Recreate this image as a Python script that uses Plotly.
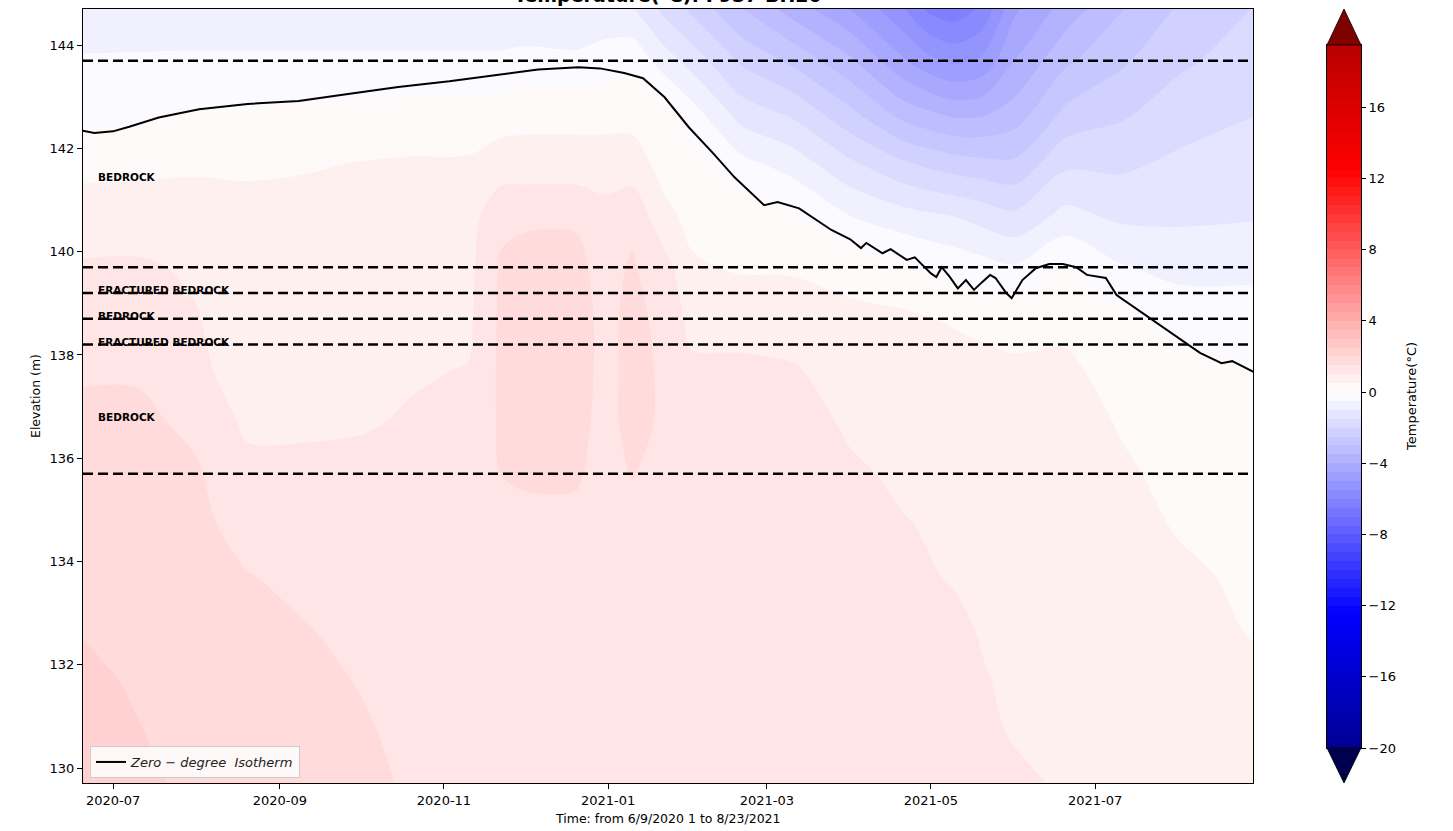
import numpy as np
import plotly.graph_objects as go

# ---------------- data ----------------
# borehole temperature grid (°C): one column per date, values listed bottom -> top
grid_dates = ["2020-06-19", "2020-07-10", "2020-08-01", "2020-08-20", "2020-09-10",
              "2020-10-01", "2020-10-20", "2020-11-10", "2020-11-22", "2020-12-01",
              "2020-12-20", "2020-12-31", "2021-01-10", "2021-01-22", "2021-02-01",
              "2021-02-20", "2021-03-10", "2021-04-01", "2021-04-20", "2021-04-30",
              "2021-05-10", "2021-05-20", "2021-06-01", "2021-06-20", "2021-07-10",
              "2021-08-01", "2021-08-29"]
grid_elev = [129.7, 130.7, 131.7, 132.7, 133.7, 134.7, 135.7, 136.7,
             137.7, 138.7, 139.7, 140.7, 141.7, 142.7, 143.7, 144.7]
temp_columns = [
    [2.30, 2.15, 2.10, 1.98, 1.85, 1.75, 1.65, 1.60, 1.45, 1.20, 1.05, 0.75, 0.35, -0.15, -0.45, -0.80],
    [2.10, 2.02, 1.95, 1.90, 1.85, 1.75, 1.65, 1.60, 1.45, 1.25, 1.05, 0.80, 0.35, -0.10, -0.45, -0.75],
    [1.90, 1.85, 1.80, 1.75, 1.70, 1.60, 1.55, 1.40, 1.10, 1.02, 0.95, 0.80, 0.40, 0.05, -0.45, -0.70],
    [1.85, 1.80, 1.70, 1.60, 1.52, 1.35, 1.15, 0.90, 0.80, 0.80, 0.80, 0.70, 0.40, 0.05, -0.45, -0.70],
    [1.80, 1.70, 1.60, 1.52, 1.40, 1.30, 1.15, 0.90, 0.75, 0.75, 0.75, 0.70, 0.45, 0.10, -0.45, -0.70],
    [1.60, 1.55, 1.48, 1.40, 1.35, 1.25, 1.15, 0.95, 0.85, 0.80, 0.75, 0.70, 0.52, 0.15, -0.45, -0.70],
    [1.45, 1.40, 1.35, 1.30, 1.30, 1.25, 1.20, 1.05, 0.95, 0.85, 0.80, 0.70, 0.55, 0.20, -0.45, -0.70],
    [1.40, 1.35, 1.35, 1.30, 1.30, 1.25, 1.20, 1.10, 1.02, 0.90, 0.85, 0.75, 0.55, 0.25, -0.45, -0.70],
    [1.35, 1.30, 1.30, 1.30, 1.30, 1.35, 1.50, 1.56, 1.58, 1.58, 1.55, 1.40, 0.70, 0.30, -0.45, -0.70],
    [1.35, 1.30, 1.30, 1.30, 1.30, 1.40, 1.55, 1.60, 1.65, 1.65, 1.60, 1.45, 0.70, 0.35, -0.42, -0.70],
    [1.30, 1.30, 1.30, 1.30, 1.30, 1.40, 1.55, 1.60, 1.65, 1.65, 1.60, 1.45, 0.70, 0.35, -0.42, -0.80],
    [1.30, 1.30, 1.30, 1.30, 1.30, 1.30, 1.35, 1.40, 1.40, 1.40, 1.35, 1.20, 0.70, 0.35, -0.25, -0.85],
    [1.30, 1.30, 1.30, 1.30, 1.30, 1.35, 1.52, 1.60, 1.60, 1.60, 1.55, 1.40, 0.70, 0.35, -0.15, -0.95],
    [1.30, 1.30, 1.30, 1.30, 1.30, 1.30, 1.35, 1.45, 1.45, 1.40, 1.20, 0.60, 0.35, 0.15, -0.75, -1.65],
    [1.30, 1.30, 1.30, 1.30, 1.30, 1.30, 1.30, 1.25, 1.10, 0.85, 0.55, 0.40, 0.25, -0.30, -1.20, -2.10],
    [1.30, 1.30, 1.30, 1.30, 1.30, 1.30, 1.30, 1.25, 1.10, 0.80, 0.45, 0.30, -0.35, -1.25, -2.10, -3.00],
    [1.30, 1.30, 1.28, 1.27, 1.26, 1.25, 1.25, 1.15, 1.05, 0.75, 0.45, 0.10, -0.70, -1.60, -2.60, -3.70],
    [1.25, 1.20, 1.20, 1.15, 1.10, 1.10, 1.05, 0.95, 0.80, 0.60, 0.35, -0.50, -1.40, -2.40, -3.40, -4.50],
    [1.20, 1.20, 1.15, 1.10, 1.05, 1.02, 0.95, 0.85, 0.75, 0.60, 0.10, -0.80, -1.90, -3.20, -4.40, -5.40],
    [1.18, 1.15, 1.12, 1.08, 1.02, 0.98, 0.92, 0.82, 0.72, 0.52, -0.05, -0.92, -2.10, -3.45, -4.85, -6.10],
    [1.15, 1.12, 1.10, 1.05, 0.98, 0.95, 0.90, 0.80, 0.70, 0.45, -0.17, -1.02, -2.25, -3.65, -5.10, -6.30],
    [1.10, 1.05, 1.02, 0.98, 0.92, 0.88, 0.82, 0.75, 0.65, 0.38, -0.30, -1.20, -2.35, -3.60, -4.90, -5.90],
    [1.05, 0.98, 0.95, 0.90, 0.85, 0.80, 0.75, 0.70, 0.60, 0.30, -0.45, -1.40, -2.40, -3.30, -4.00, -4.60],
    [0.97, 0.92, 0.88, 0.84, 0.80, 0.75, 0.70, 0.65, 0.58, 0.40, 0.05, -0.85, -1.60, -2.40, -3.10, -3.80],
    [0.85, 0.80, 0.75, 0.70, 0.65, 0.60, 0.55, 0.48, 0.35, 0.15, -0.45, -1.10, -1.60, -2.10, -2.60, -3.05],
    [0.75, 0.70, 0.65, 0.60, 0.55, 0.48, 0.42, 0.35, 0.25, -0.20, -0.65, -1.10, -1.40, -1.75, -2.10, -2.45],
    [0.65, 0.60, 0.55, 0.48, 0.45, 0.40, 0.35, 0.25, 0.02, -0.30, -0.60, -1.05, -1.30, -1.52, -1.75, -1.98],
]

# zero-degree isotherm elevation through time
iso_dates = ["2020-06-19", "2020-06-24", "2020-07-01", "2020-07-07", "2020-07-18", "2020-08-02",
             "2020-08-20", "2020-09-08", "2020-09-27", "2020-10-15", "2020-11-03", "2020-11-22",
             "2020-12-06", "2020-12-21", "2020-12-29", "2021-01-07", "2021-01-14", "2021-01-22",
             "2021-01-31", "2021-02-09", "2021-02-17", "2021-02-28", "2021-03-05", "2021-03-13",
             "2021-03-25", "2021-04-01", "2021-04-05", "2021-04-07", "2021-04-13", "2021-04-16",
             "2021-04-22", "2021-04-25", "2021-05-01", "2021-05-03", "2021-05-05", "2021-05-08",
             "2021-05-11", "2021-05-14", "2021-05-17", "2021-05-20", "2021-05-23", "2021-05-25",
             "2021-05-29", "2021-05-31", "2021-06-04", "2021-06-09", "2021-06-14", "2021-06-19",
             "2021-06-24", "2021-06-28", "2021-07-05", "2021-07-09", "2021-07-21", "2021-08-02",
             "2021-08-09", "2021-08-17", "2021-08-21", "2021-08-29"]
iso_elev = [142.35, 142.30, 142.33, 142.42, 142.60, 142.76, 142.86, 142.92, 143.06, 143.19,
            143.30, 143.43, 143.53, 143.57, 143.55, 143.46, 143.36, 142.99, 142.41, 141.91,
            141.44, 140.90, 140.96, 140.84, 140.42, 140.24, 140.07, 140.17, 139.97, 140.05,
            139.84, 139.89, 139.58, 139.51, 139.70, 139.51, 139.29, 139.45, 139.26, 139.41,
            139.55, 139.49, 139.20, 139.10, 139.45, 139.68, 139.76, 139.76, 139.70, 139.55,
            139.49, 139.16, 138.73, 138.29, 138.04, 137.84, 137.88, 137.67]

# geological layer boundaries and labels
layer_bounds = [143.7, 139.7, 139.2, 138.7, 138.2, 135.7]
layer_names = ["BEDROCK", "FRACTURED BEDROCK", "BEDROCK", "FRACTURED BEDROCK", "BEDROCK"]
layer_label_elev = [141.45, 139.25, 138.75, 138.25, 136.8]

cbar_ticks = [-20, -16, -12, -8, -4, 0, 4, 8, 12, 16]
cbar_ticktext = ["\u221220", "\u221216", "\u221212", "\u22128", "\u22124", "0", "4", "8", "12", "16"]

# ---------------- styling helpers ----------------
LVL_START, LVL_END, LVL_STEP = -20.0, 19.5, 0.5
NORM_MIN, NORM_MAX = -25.0, 25.0
FONT = "DejaVu Sans"


def seismic(f):
    anchors = [(0.0, (0.0, 0.0, 0.3)), (0.25, (0.0, 0.0, 1.0)), (0.5, (1.0, 1.0, 1.0)),
               (0.75, (1.0, 0.0, 0.0)), (1.0, (0.5, 0.0, 0.0))]
    f = min(max(f, 0.0), 1.0)
    for (p0, c0), (p1, c1) in zip(anchors[:-1], anchors[1:]):
        if f <= p1:
            t = (f - p0) / (p1 - p0)
            return "rgb(%d,%d,%d)" % tuple(round(255 * (a + (b - a) * t)) for a, b in zip(c0, c1))
    return "rgb(128,0,0)"


# discrete colour for every filled band (band midpoints), plus the band below the first level
n_stops = int(round((LVL_END - LVL_START) / LVL_STEP)) + 1
band_vals = [LVL_START - LVL_STEP / 2 + LVL_STEP * k for k in range(n_stops + 1)]
colorscale = [[k / n_stops, seismic((v - NORM_MIN) / (NORM_MAX - NORM_MIN))]
              for k, v in enumerate(band_vals)]

levels = np.arange(LVL_START, LVL_END + LVL_STEP / 2, LVL_STEP)
centers = (levels[:-1] + levels[1:]) / 2

z = np.array(temp_columns).T

# page geometry (pixels)
W, H = 1453, 831
ML, MR, MT, MB = 83, 92, 9, 48
PW, PH = W - ML - MR, H - MT - MB


def px_x(x):
    return (x - ML) / PW


def px_y(y):
    return (H - MB - y) / PH


fig = go.Figure()

fig.add_trace(go.Contour(
    x=grid_dates, y=grid_elev, z=z,
    colorscale=colorscale, autocontour=False,
    contours=dict(start=LVL_START, end=LVL_END, size=LVL_STEP,
                  coloring="fill", showlines=False),
    line=dict(width=0, smoothing=0.9),
    showscale=False, hoverinfo="skip", showlegend=False,
))

fig.add_trace(go.Scatter(
    x=iso_dates, y=iso_elev, mode="lines",
    line=dict(color="black", width=2),
    name="<i>Zero \u2212 degree\u00a0\u00a0Isotherm</i>",
    showlegend=True,
))

# colour bar drawn as its own small axis
fig.add_trace(go.Heatmap(
    x=[0, 1], y=levels, z=[[c] for c in centers],
    colorscale=colorscale, zmin=band_vals[0], zmax=band_vals[-1],
    showscale=False, hoverinfo="skip", xaxis="x2", yaxis="y2", showlegend=False,
))

shapes = []
for b in layer_bounds:
    shapes.append(dict(type="line", xref="x domain", yref="y", x0=0, x1=1, y0=b, y1=b,
                       line=dict(color="black", width=2.5, dash="10px,5px")))

cb_l, cb_r, cb_c = px_x(1327), px_x(1361), px_x(1344)
cb_top, cb_bot = px_y(45), px_y(748)
shapes.append(dict(type="path", xref="paper", yref="paper",
                   path=f"M {cb_l},{cb_top} L {cb_r},{cb_top} L {cb_c},{px_y(9)} Z",
                   fillcolor=seismic(1.0), line=dict(color="black", width=0.8)))
shapes.append(dict(type="path", xref="paper", yref="paper",
                   path=f"M {cb_l},{cb_bot} L {cb_r},{cb_bot} L {cb_c},{px_y(783)} Z",
                   fillcolor=seismic(0.0), line=dict(color="black", width=0.8)))

annotations = []
for name, ev in zip(layer_names, layer_label_elev):
    annotations.append(dict(text=f"<b>{name}</b>", xref="x domain", yref="y",
                            x=px_x(96) / px_x(1253), y=ev, xanchor="left", yanchor="middle",
                            showarrow=False, font=dict(family=FONT, size=10.5, color="black")))

annotations.append(dict(text="<b>Temperature(\u00b0C): F937 BH20</b>", xref="x domain", yref="paper",
                        x=0.5, y=1.001, xanchor="center", yanchor="bottom", showarrow=False,
                        font=dict(family=FONT, size=19, color="black")))
annotations.append(dict(text="Time: from 6/9/2020 1 to 8/23/2021", xref="x domain", yref="paper",
                        x=0.5, y=px_y(818), xanchor="center", yanchor="middle", showarrow=False,
                        font=dict(family=FONT, size=12.5, color="black")))
annotations.append(dict(text="Elevation (m)", xref="paper", yref="paper",
                        x=px_x(35), y=px_y(396), xanchor="center", yanchor="middle",
                        textangle=-90, showarrow=False,
                        font=dict(family=FONT, size=12.5, color="black")))
annotations.append(dict(text="Temperature(\u00b0C)", xref="paper", yref="paper",
                        x=px_x(1411), y=px_y(396), xanchor="center", yanchor="middle",
                        textangle=-90, showarrow=False,
                        font=dict(family=FONT, size=13, color="black")))

fig.update_layout(
    width=W, height=H,
    margin=dict(l=ML, r=MR, t=MT, b=MB, pad=0),
    paper_bgcolor="white", plot_bgcolor="white",
    font=dict(family=FONT, size=13, color="black"),
    xaxis=dict(domain=[0, px_x(1253)], type="date",
               range=["2020-06-19 20:00", "2021-08-28 17:00"],
               tick0="2020-07-01", dtick="M2", tickformat="%Y-%m",
               ticks="outside", ticklen=5, tickcolor="black", tickwidth=1,
               showline=True, linecolor="black", linewidth=1, mirror=True,
               showgrid=False, zeroline=False, tickfont=dict(size=13)),
    yaxis=dict(range=[129.71, 144.70], tickvals=[130, 132, 134, 136, 138, 140, 142, 144],
               ticks="outside", ticklen=5, tickcolor="black", tickwidth=1,
               showline=True, linecolor="black", linewidth=1, mirror=True,
               showgrid=False, zeroline=False, tickfont=dict(size=13)),
    xaxis2=dict(domain=[cb_l, cb_r], range=[0, 1], anchor="y2",
                showticklabels=False, ticks="", showgrid=False, zeroline=False,
                showline=True, linecolor="black", linewidth=1, mirror=True),
    yaxis2=dict(domain=[cb_bot, cb_top], range=[LVL_START, LVL_END], anchor="x2", side="right",
                tickvals=cbar_ticks, ticktext=cbar_ticktext,
                ticks="outside", ticklen=4, tickcolor="black", tickwidth=1,
                showline=True, linecolor="black", linewidth=1, mirror=True,
                showgrid=False, zeroline=False, tickfont=dict(size=13)),
    legend=dict(x=px_x(90), y=px_y(778), xanchor="left", yanchor="bottom",
                bgcolor="rgba(255,255,255,0.8)", bordercolor="#cccccc", borderwidth=1,
                font=dict(family=FONT, size=13, color="#222222"), itemwidth=30),
    shapes=shapes,
    annotations=annotations,
)

fig.write_html("out.html")
